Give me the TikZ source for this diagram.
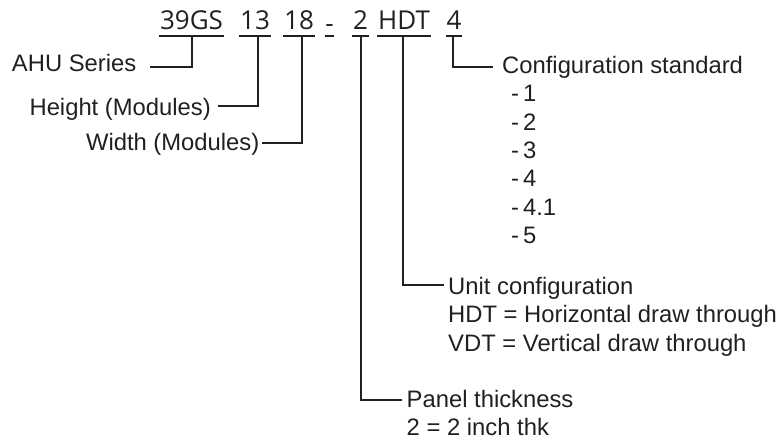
\documentclass[tikz,border=0pt]{standalone}
\usepackage{fontspec}
\setmainfont{Liberation Sans}
\newfontfamily\codefont{Open Sans}
\definecolor{ink}{HTML}{231F20}

\tikzset{
  code/.style={font=\codefont\fontsize{26}{30}\selectfont, text=ink, inner xsep=0.5pt, inner ysep=0pt},
  lbl/.style={font=\fontsize{23.8}{28}\selectfont, text=ink, inner sep=0pt},
  uline/.style={draw=ink, line width=2.4pt},
  lead/.style={draw=ink, line width=2pt},
}

\begin{document}
\begin{tikzpicture}[x=1pt,y=-1pt]
\useasboundingbox (0,0) rectangle (783,441);
% model code
\node[code, anchor=base] (ser) at (191.5,30) {39GS};
\node[code, anchor=base] (hgt) at (255,30) {13};
\node[code, anchor=base] (wid) at (299,30) {18};
\node[code, anchor=base] (dsh) at (329.5,30) {\raisebox{-3pt}{-}};
\node[code, anchor=base] (pnl) at (360.5,30) {2};
\node[code, anchor=base] (cfg) at (404,30) {HDT};
\node[code, anchor=base] (std) at (454,30) {4};
\foreach \t in {ser,hgt,wid,dsh,pnl,cfg,std}
  \draw[uline] ([yshift=-6pt]\t.base west) -- ([yshift=-6pt]\t.base east);

% labels, left side
\node[lbl, anchor=base east] (serL) at (136.5,72) {AHU Series};
\node[lbl, anchor=base east] (hgtL) at (211,115.5) {Height (Modules)};
\node[lbl, anchor=base east] (widL) at (259.5,150) {Width (Modules)};

% labels, right side
\node[lbl, anchor=base west] (stdL) at (502,73.5) {Configuration standard};
\foreach \v [count=\i] in {1,2,3,4,4.1,5}
  \node[lbl, anchor=base west] (std\i) at (511,{73.5+28.3*\i}) {-\,\v};
\node[lbl, anchor=base west] (cfgL) at (448,294) {Unit configuration};
\node[lbl, anchor=base west] (cfgH) at (448,322.5) {HDT = Horizontal draw through};
\node[lbl, anchor=base west] (cfgV) at (448,351) {VDT = Vertical draw through};
\node[lbl, anchor=base west] (pnlL) at (406.5,407) {Panel thickness};
\node[lbl, anchor=base west] (pnlV) at (406.5,435.5) {2 = 2 inch thk};

% leaders
\draw[lead] ([xshift=13.5pt,yshift=5pt]serL.base east) -| ([yshift=-6pt]ser.base);
\draw[lead] ([xshift=7pt,yshift=9.5pt]hgtL.base east) -| ([xshift=3pt,yshift=-6pt]hgt.base);
\draw[lead] ([xshift=2.5pt,yshift=7pt]widL.base east) -| ([xshift=2.5pt,yshift=-6pt]wid.base);
\draw[lead] ([xshift=-1pt,yshift=-6pt]std.base) |- ([xshift=-9pt,yshift=6.5pt]stdL.base west);
\draw[lead] ([xshift=-1pt,yshift=-6pt]cfg.base) |- ([xshift=-4pt,yshift=9pt]cfgL.base west);
\draw[lead] ([yshift=-6pt]pnl.base) |- ([xshift=-5pt,yshift=7pt]pnlL.base west);
\end{tikzpicture}
\end{document}
